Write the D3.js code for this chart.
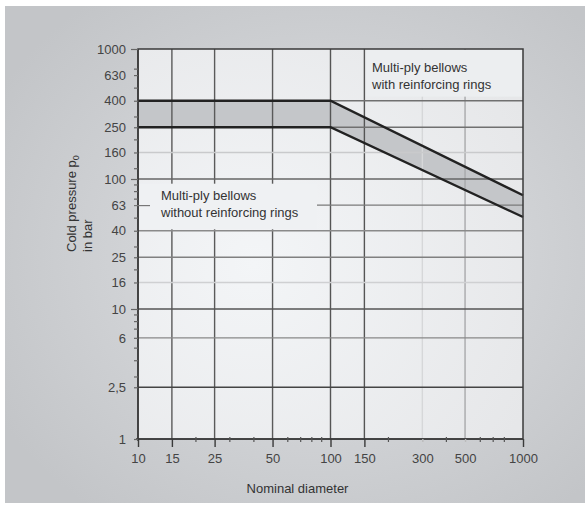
<!DOCTYPE html>
<html>
<head>
<meta charset="utf-8">
<script src="https://cdn.jsdelivr.net/npm/d3@7"></script>
<style>
  body { margin: 0; background: #fff; }
  svg { display: block; font-family: "Liberation Sans", Arial, sans-serif; }
</style>
</head>
<body>
<svg id="chart"></svg>
<script>
// nominal diameter (x) ticks
var xLabels = [10, 15, 25, 50, 100, 150, 300, 500, 1000];
var xMinor  = [20, 30, 40, 60, 70, 80, 90, 200, 400, 600, 700, 800];
var xGrid   = [15, 25, 50, 100, 150, 300, 500];

// cold pressure (y) ticks
var yLabels = [1000, 630, 400, 250, 160, 100, 63, 40, 25, 16, 10, 6, 2.5, 1];
var yMinor  = [700, 500, 300, 200, 120, 90, 80, 70, 50, 30, 20, 9, 8, 7, 5, 4, 3];
var yGrid   = [400, 250, 160, 100, 63, 40, 25, 16, 10, 6, 2.5];

// pressure band (with / without reinforcing rings)
var bandUpper = [[10, 400], [100, 400], [1000, 75]];
var bandLower = [[10, 250], [100, 250], [1000, 51]];

var width = 585, height = 510;
var margin = {left: 138, right: 62, top: 49, bottom: 71};

var svg = d3.select("#chart").attr("width", width).attr("height", height);

var defs = svg.append("defs");
var bgGrad = defs.append("radialGradient").attr("id", "bgGrad")
  .attr("cx", "0.55").attr("cy", "0.5").attr("r", "0.65");
bgGrad.append("stop").attr("offset", "0").attr("stop-color", "#dfe1e4");
bgGrad.append("stop").attr("offset", "1").attr("stop-color", "#c3c5c8");

var plotGrad = defs.append("radialGradient").attr("id", "plotGrad")
  .attr("cx", "0.3").attr("cy", "0.55").attr("r", "0.8");
plotGrad.append("stop").attr("offset", "0").attr("stop-color", "#f3f5f7");
plotGrad.append("stop").attr("offset", "1").attr("stop-color", "#e6e7e9");

// outer grey panel
svg.append("rect")
  .attr("x", 5).attr("y", 6)
  .attr("width", 580).attr("height", 497)
  .attr("fill", "url(#bgGrad)");

var x = d3.scaleLog()
  .domain([10, 1000])
  .range([margin.left, width - margin.right]);

var y = d3.scaleLog()
  .domain([1, 1000])
  .range([height - margin.bottom, margin.top]);

// plot background
svg.append("rect")
  .attr("x", x(10)).attr("y", y(1000))
  .attr("width", x(1000) - x(10))
  .attr("height", y(1) - y(1000))
  .attr("fill", "url(#plotGrad)");

// band fill
var area = d3.area()
  .x(function(d, i) { return x(d[0]); })
  .y0(function(d, i) { return y(bandLower[i][1]); })
  .y1(function(d) { return y(d[1]); });

svg.append("path")
  .datum(bandUpper)
  .attr("d", area)
  .attr("fill", "#c4c6c9");

// gridline styles
var vStyle = {15: "#5a5a5a", 25: "#5a5a5a", 50: "#5a5a5a", 100: "#555", 150: "#555", 300: "#d6d7d9", 500: "#a8a9ab"};
var hStyle = {400: "#707070", 250: "#707070", 160: "#c9cacc", 100: "#666", 63: "#7a7a7a", 40: "#8a8a8a",
  25: "#808080", 16: "#cfd0d2", 10: "#555", 6: "#888", 2.5: "#444"};

var grid = svg.append("g");
grid.selectAll(".vgrid")
  .data(xGrid)
  .enter().append("line")
  .attr("x1", function(d) { return x(d); })
  .attr("x2", function(d) { return x(d); })
  .attr("y1", y(1000)).attr("y2", y(1))
  .attr("stroke", function(d) { return vStyle[d]; })
  .attr("stroke-width", 1.4);

grid.selectAll(".hgrid")
  .data(yGrid)
  .enter().append("line")
  .attr("x1", x(10)).attr("x2", x(1000))
  .attr("y1", function(d) { return y(d); })
  .attr("y2", function(d) { return y(d); })
  .attr("stroke", function(d) { return hStyle[d]; })
  .attr("stroke-width", 1.4);

// band edges
var line = d3.line()
  .x(function(d) { return x(d[0]); })
  .y(function(d) { return y(d[1]); });

[bandUpper, bandLower].forEach(function(b) {
  svg.append("path")
    .datum(b)
    .attr("d", line)
    .attr("fill", "none")
    .attr("stroke", "#222")
    .attr("stroke-width", 2.4);
});

// label boxes hide gridlines under the text
svg.append("rect")
  .attr("x", x(10) + 1).attr("y", y(92))
  .attr("width", 178).attr("height", y(41) - y(92))
  .attr("fill", "#eff1f3");

svg.append("rect")
  .attr("x", x(150) + 2).attr("y", y(1000) + 1)
  .attr("width", x(1000) - x(150) - 3).attr("height", y(430) - y(1000) - 1)
  .attr("fill", "#eceef0");

var notes = svg.append("g")
  .attr("font-size", 13)
  .attr("fill", "#333");

notes.append("text").attr("x", 161).attr("y", 200).text("Multi-ply bellows");
notes.append("text").attr("x", 161).attr("y", 217).text("without reinforcing rings");
notes.append("text").attr("x", 372).attr("y", 72).text("Multi-ply bellows");
notes.append("text").attr("x", 372).attr("y", 89).text("with reinforcing rings");

// frame
svg.append("rect")
  .attr("x", x(10)).attr("y", y(1000))
  .attr("width", x(1000) - x(10))
  .attr("height", y(1) - y(1000))
  .attr("fill", "none")
  .attr("stroke", "#3a3a3a")
  .attr("stroke-width", 1.5);

// x axis
var xAxis = d3.axisBottom(x)
  .tickValues(xLabels)
  .tickFormat(d3.format("d"))
  .tickSize(8)
  .tickPadding(7);

var gx = svg.append("g")
  .attr("transform", "translate(0," + y(1) + ")")
  .call(xAxis);
gx.select(".domain").attr("stroke", "#3a3a3a").attr("stroke-width", 1.5)
  .attr("d", "M" + (x(10) - 2) + ",0H" + x(1000));
gx.selectAll(".tick line").attr("stroke", function(d) { return (d === 300 || d === 500) ? "#bbb" : "#3a3a3a"; })
  .attr("stroke-width", 1.4)
  .attr("y2", function(d) { return (d === 300 || d === 500) ? 3 : 8; });
gx.selectAll(".tick text").attr("font-size", 13).attr("fill", "#444")
  .attr("font-family", "Liberation Sans, Arial, sans-serif");

svg.append("g").selectAll("line")
  .data(xMinor)
  .enter().append("line")
  .attr("x1", function(d) { return x(d); })
  .attr("x2", function(d) { return x(d); })
  .attr("y1", y(1) - 2).attr("y2", y(1) + 3)
  .attr("stroke", "#555")
  .attr("stroke-width", 1.2);

// y axis
var yAxis = d3.axisLeft(y)
  .tickValues(yLabels)
  .tickFormat(function(d) { return d === 2.5 ? "2,5" : d; })
  .tickSize(4)
  .tickPadding(8);

var gy = svg.append("g")
  .attr("transform", "translate(" + x(10) + ",0)")
  .call(yAxis);
gy.select(".domain").attr("stroke", "#3a3a3a").attr("stroke-width", 1.5)
  .attr("d", "M0," + y(1000) + "V" + (y(1) + 2));
gy.selectAll(".tick line")
  .attr("stroke", function(d) { return d === 63 ? "#777" : "#666"; })
  .attr("stroke-width", 1.2)
  .attr("x1", function(d) { return d === 63 ? 12 : 0; })
  .attr("x2", function(d) { return (d === 1000 || d === 100 || d === 10) ? -7 : -4; });
gy.selectAll(".tick text").attr("font-size", 13).attr("fill", "#444")
  .attr("font-family", "Liberation Sans, Arial, sans-serif");

svg.append("g").selectAll("line")
  .data(yMinor)
  .enter().append("line")
  .attr("x1", x(10) - 4).attr("x2", x(10))
  .attr("y1", function(d) { return y(d); })
  .attr("y2", function(d) { return y(d); })
  .attr("stroke", "#666")
  .attr("stroke-width", 1.2);

// axis titles
svg.append("text")
  .attr("x", (x(10) + x(1000)) / 2 - 33)
  .attr("y", 493)
  .attr("text-anchor", "middle")
  .attr("font-size", 13)
  .attr("fill", "#333")
  .text("Nominal diameter");

var yTitle = svg.append("text")
  .attr("transform", "translate(76,252) rotate(-90)")
  .attr("font-size", 13)
  .attr("fill", "#333");
yTitle.append("tspan").attr("x", 0).attr("y", 0).text("Cold pressure p");
yTitle.append("tspan").attr("font-size", 9).attr("dy", 3).text("0");
yTitle.append("tspan").attr("x", 0).attr("y", 16).text("in bar");
</script>
</body>
</html>
